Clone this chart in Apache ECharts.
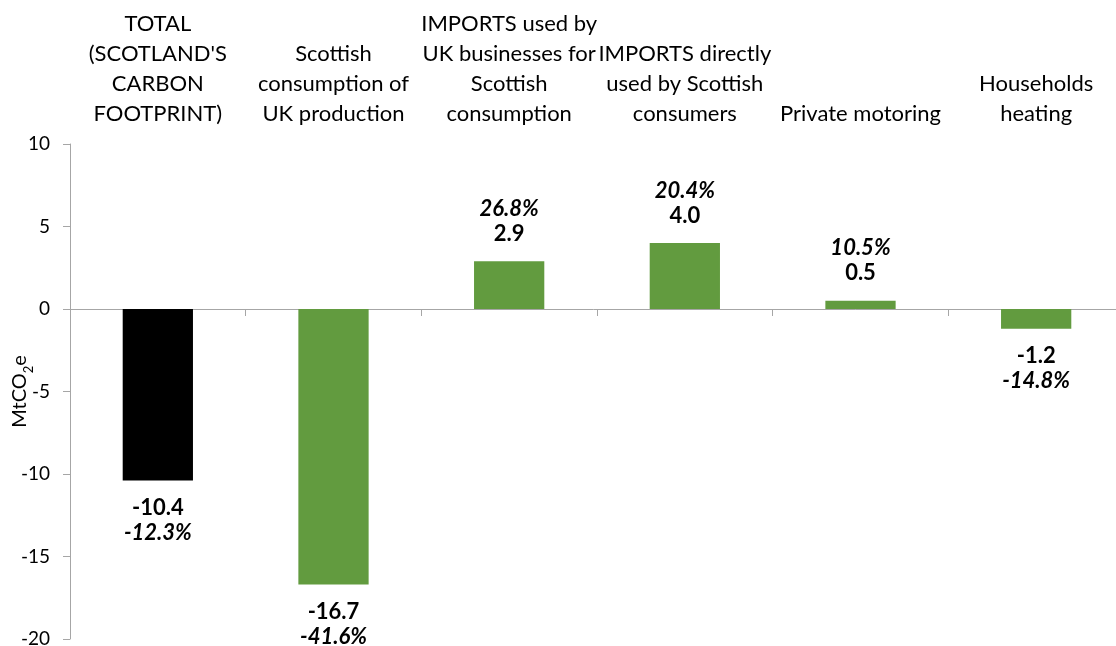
<!DOCTYPE html>
<html><head><meta charset="utf-8">
<script src="https://cdn.jsdelivr.net/npm/echarts@6/dist/echarts.min.js"></script>
<style>html,body{margin:0;padding:0;background:#fff}#c{width:1116px;height:646px}</style>
</head><body><div id="c"></div>
<script>
const categories = [
  "TOTAL\n(SCOTLAND'S\nCARBON\nFOOTPRINT)",
  "Scottish\nconsumption of\nUK production",
  "IMPORTS used by\nUK businesses for\nScottish\nconsumption",
  "IMPORTS directly\nused by Scottish\nconsumers",
  "Private motoring",
  "Households\nheating"
];
const values = [-10.4, -16.7, 2.9, 4.0, 0.5, -1.2];
const percents = ["-12.3%", "-41.6%", "26.8%", "20.4%", "10.5%", "-14.8%"];
const barColors = ["#000000", "#629b3f", "#629b3f", "#629b3f", "#629b3f", "#629b3f"];
const yTicks = [-20, -15, -10, -5, 0, 5, 10];

const FONT = "Lato";
const chart = echarts.init(document.getElementById('c'), null, {renderer: 'canvas'});
const richStyles = {
  v: {fontFamily: FONT, fontWeight: 'bold', fontSize: 22, color: '#000', lineHeight: 25},
  p: {fontFamily: FONT, fontWeight: 'bold', fontStyle: 'italic', fontSize: 22, color: '#000', lineHeight: 25}
};
const data = values.map((v, i) => ({
  value: v,
  itemStyle: {color: barColors[i]},
  label: {
    show: true,
    position: v >= 0 ? 'top' : 'bottom',
    distance: 15,
    formatter: v >= 0 ? `{p|${percents[i]}}\n{v|${v.toFixed(1)}}` : `{v|${v.toFixed(1)}}\n{p|${percents[i]}}`,
    rich: richStyles
  }
}));

chart.setOption({
  animation: false,
  backgroundColor: '#fff',
  grid: {left: 70, right: -8, top: 144, bottom: 7, containLabel: false, outerBoundsMode: 'none'},
  xAxis: [
    {
      type: 'category', data: categories, position: 'top',
      axisLine: {show: false, onZero: false}, axisTick: {show: false},
      axisLabel: {interval: 0, margin: 15, fontFamily: FONT, fontSize: 22, color: '#000', lineHeight: 30}
    },
    {
      type: 'category', data: categories, position: 'bottom',
      axisLine: {show: true, onZero: true, lineStyle: {color: '#a6a6a6', width: 1}},
      axisTick: {show: true, length: 7, alignWithLabel: false, lineStyle: {color: '#a6a6a6'}},
      axisLabel: {show: false}
    }
  ],
  yAxis: {
    type: 'value', min: yTicks[0], max: yTicks[yTicks.length - 1], interval: 5,
    splitLine: {show: false},
    axisLine: {show: true, lineStyle: {color: '#a6a6a6'}},
    axisTick: {show: true, length: 7, lineStyle: {color: '#a6a6a6'}},
    axisLabel: {margin: 20, fontFamily: FONT, fontSize: 19, color: '#000'},
    name: '{a|MtCO}{s|2}{a|e}',
    nameLocation: 'middle', nameGap: 40, nameRotate: 90, nameMoveOverlap: false,
    nameTextStyle: {
      rich: {
        a: {fontFamily: FONT, fontSize: 20, color: '#000', verticalAlign: 'bottom'},
        s: {fontFamily: FONT, fontSize: 13, color: '#000', verticalAlign: 'bottom', padding: [0, 0, -5, 0]}
      }
    }
  },
  series: [{
    type: 'bar', xAxisIndex: 1, barWidth: '40%', data: data
  }]
});
</script></body></html>
